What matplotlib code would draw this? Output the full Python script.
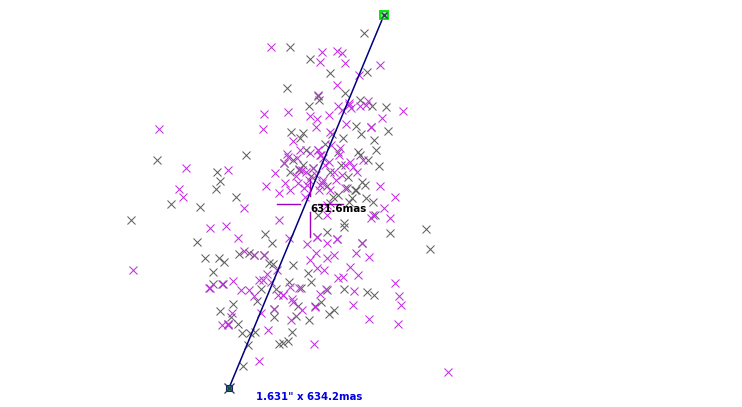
import matplotlib
matplotlib.use("Agg")
import matplotlib.pyplot as plt

# positions (x to the right, y downward)
grey_x = [364,310,290,330,367,287,309,319,360,386,388,157,131,171,200,246,217,220,216,236,197,265,213,213,223,233,220,238,242,250,255,248,243,279,283,288,292,309,329,334,344,344,390,426,430,375,373,366,379,376,374,356,358,367,374,344,327,311,308,301,318,345,372,291,303,300,332,343,361,371,360,356,338,347,318,325,348,355,362,365,338,330,313,299,293,290,284,349,330,337,327,362,317,272,239,249,254,264,224,205,219,273,269,293,289,276,261,257,274,298,315,321,231,228,274,296,303,311,327,341,352,368,306,333]
grey_y = [33,59,47,73,72,88,106,100,100,107,131,160,220,204,207,155,172,181,189,197,242,234,272,284,284,304,311,324,333,333,332,345,366,344,343,341,332,320,314,310,223,227,233,229,249,215,202,198,166,150,140,126,152,292,295,289,290,282,273,288,96,93,106,132,133,138,134,138,134,127,155,190,195,188,215,144,177,190,182,185,152,172,168,169,160,172,163,202,203,239,232,243,237,243,254,253,255,255,262,258,258,264,263,265,282,289,289,301,309,306,306,302,317,324,317,316,165,176,186,165,198,160,150,197]
magenta_x = [271,322,320,337,342,345,380,359,337,349,318,264,288,310,329,338,349,360,368,366,403,382,263,159,317,346,371,316,330,342,351,380,395,384,390,373,371,362,369,356,337,327,317,307,316,334,327,310,279,289,264,254,266,279,285,290,275,284,287,300,293,299,302,298,304,309,313,323,323,320,330,336,345,353,357,363,320,318,327,305,186,183,179,228,244,210,226,238,244,133,448,398,395,399,401,369,353,354,358,350,324,317,338,343,259,268,314,291,302,278,283,263,267,277,259,241,249,254,233,209,210,222,228,232,261,274,293,315,290,299,320,326,292,283,271,228,222,318,321,340,339,325,329,306,297,310,316,334,322,350,342,319,307,288,296,331,345,327]
magenta_y = [47,52,62,51,53,63,65,75,85,105,95,114,112,116,115,106,103,106,101,105,111,118,129,129,119,124,127,127,132,110,108,186,197,208,218,215,218,243,257,253,239,243,237,244,253,255,258,260,220,238,255,255,186,193,183,190,173,163,154,150,141,170,170,183,188,180,168,158,180,185,190,180,188,167,172,160,155,150,215,197,168,197,189,170,208,228,226,238,251,270,372,324,283,296,305,319,305,291,275,267,270,268,278,277,361,330,344,320,310,295,295,280,274,270,280,290,290,296,281,288,288,284,325,313,313,309,302,307,287,288,294,289,299,295,282,324,325,150,155,148,155,165,162,172,158,153,175,172,183,162,175,190,185,157,176,145,165,205]
track_x = [384, 229]
track_y = [15, 388]
cross_h_left = [277, 300]
cross_h_right = [318, 343]
cross_v_top = [179, 196]
cross_v_bottom = [212, 237]
cross_cx, cross_cy = 309.5, 204
label_sep = "631.6mas"
label_total = '1.631" x 634.2mas'

fig = plt.figure(figsize=(7.42, 4.07), dpi=100, facecolor="white")
ax = fig.add_axes([0, 0, 1, 1])
ax.set_xlim(0, 742)
ax.set_ylim(407, 0)
ax.axis("off")

mk = dict(linestyle="none", marker="x", markersize=5.6, markeredgewidth=0.75, antialiased=False)
ax.plot(grey_x, grey_y, color="#606060", **mk)
ax.plot(magenta_x, magenta_y, color="#c030e0", **mk)

ax.plot(track_x, track_y, color="#000080", lw=1.1, zorder=4)
violet = "#a000c0"
for xs, ys in [(cross_h_left, [cross_cy]*2), (cross_h_right, [cross_cy]*2),
               ([cross_cx]*2, cross_v_top), ([cross_cx]*2, cross_v_bottom)]:
    ax.plot(xs, ys, color=violet, lw=1.0, zorder=4)

ax.plot([track_x[0]], [track_y[0]], linestyle="none", marker="s", markersize=6.2, mfc="#80f080", mec="#00e000", mew=1.3, zorder=5)
ax.plot([track_x[0]], [track_y[0]], linestyle="none", marker="x", markersize=5, color="#303060", mew=1.0, zorder=5)
ax.plot([track_x[1]], [track_y[1]], linestyle="none", marker="s", markersize=4, mfc="#00a040", mec="#202060", mew=0.8, zorder=5)
ax.plot([track_x[1]], [track_y[1]], linestyle="none", marker="x", markersize=6.5, color="#303060", mew=0.9, zorder=5)

ax.text(310, 209, label_sep, color="black", fontsize=7.4, fontweight="bold", family="DejaVu Sans", ha="left", va="center", zorder=6)
ax.text(256, 397.5, label_total, color="#0000e0", fontsize=7.3, fontweight="bold", family="DejaVu Sans", ha="left", va="center", zorder=6)

fig.savefig("out.png", dpi=100, facecolor="white")
